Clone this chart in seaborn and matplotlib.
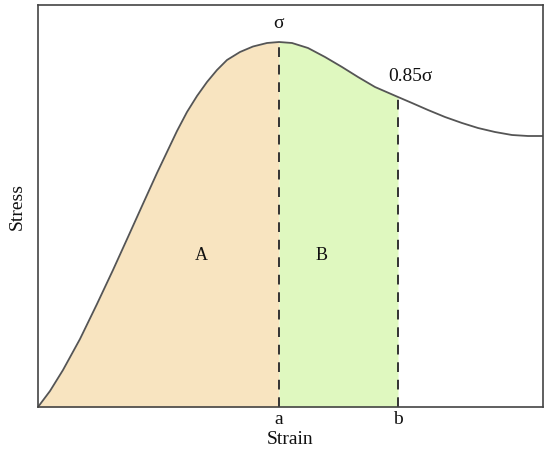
import matplotlib
matplotlib.use("Agg")
import matplotlib.pyplot as plt
import seaborn as sns
import numpy as np
import pandas as pd

# data (arbitrary units)
strain = [0, 12, 25, 42, 59, 75, 90, 104, 119, 129, 139, 149, 159, 169, 179, 189, 202, 215,
          229, 241, 254, 270, 287, 304, 320, 337, 360, 374, 390, 407, 424, 440, 457, 474, 490, 505]
stress = [0, 16, 37, 68, 103, 137, 170, 201, 234, 255, 276, 295, 311, 325, 337, 347, 355, 360.5,
          364, 365, 364, 359, 350, 340, 330, 320, 310, 304, 297, 290, 284, 279, 275, 272, 271, 271]
peak_strain = 241      # a
post_strain = 360      # b
tick_labels = ["a", "b"]
region_labels = ["A", "B"]
peak_label = "σ"
post_label = "0.85σ"

sns.set_theme(style="white")
plt.rcParams["font.family"] = ["Liberation Serif", "DejaVu Serif"]

df = pd.DataFrame({"Strain": strain, "Stress": stress})
x = np.array(strain)
y = np.array(stress)

fig = plt.figure(figsize=(5.5, 4.59), dpi=100)
ax = fig.add_axes([38 / 550, 1 - 407 / 459, (543 - 38) / 550, (407 - 5) / 459])

ia = int(np.where(x == peak_strain)[0][0])
ib = int(np.where(x == post_strain)[0][0])
ax.fill_between(x[:ia + 1], 0, y[:ia + 1], color="#F8E4C0", linewidth=0)
ax.fill_between(x[ia:ib + 1], 0, y[ia:ib + 1], color="#DFF8BF", linewidth=0)

sns.lineplot(data=df, x="Strain", y="Stress", ax=ax, color="#555555", linewidth=1.3, sort=False)

peak_val = y[ia]
post_val = y[ib]
ax.vlines([peak_strain, post_strain], 0, [peak_val, post_val], colors="#333333",
          linestyles=(0, (5, 4)), linewidth=1.4)

ax.set_xlim(0, 505)
ax.set_ylim(0, 402)
ax.set_xticks([peak_strain, post_strain])
ax.set_xticklabels(tick_labels, fontsize=14)
ax.set_yticks([])
ax.tick_params(axis="x", length=0, pad=3, colors="#111111")
ax.set_xlabel("Strain", fontsize=14, labelpad=2, color="#111111")
ax.set_ylabel("Stress", fontsize=14, labelpad=9, color="#111111")

for s in ax.spines.values():
    s.set_color("#444444")
    s.set_linewidth(1.2)

ax.text(peak_strain, peak_val + 10, peak_label, ha="center", va="bottom", fontsize=14, color="#111111")
ax.text(post_strain + 12, post_val + 12, post_label, ha="center", va="bottom", fontsize=14, color="#111111")
ax.text(163, 152, region_labels[0], ha="center", va="center", fontsize=13, color="#111111")
ax.text(284, 152, region_labels[1], ha="center", va="center", fontsize=13, color="#111111")

fig.savefig("out.png", dpi=100)
